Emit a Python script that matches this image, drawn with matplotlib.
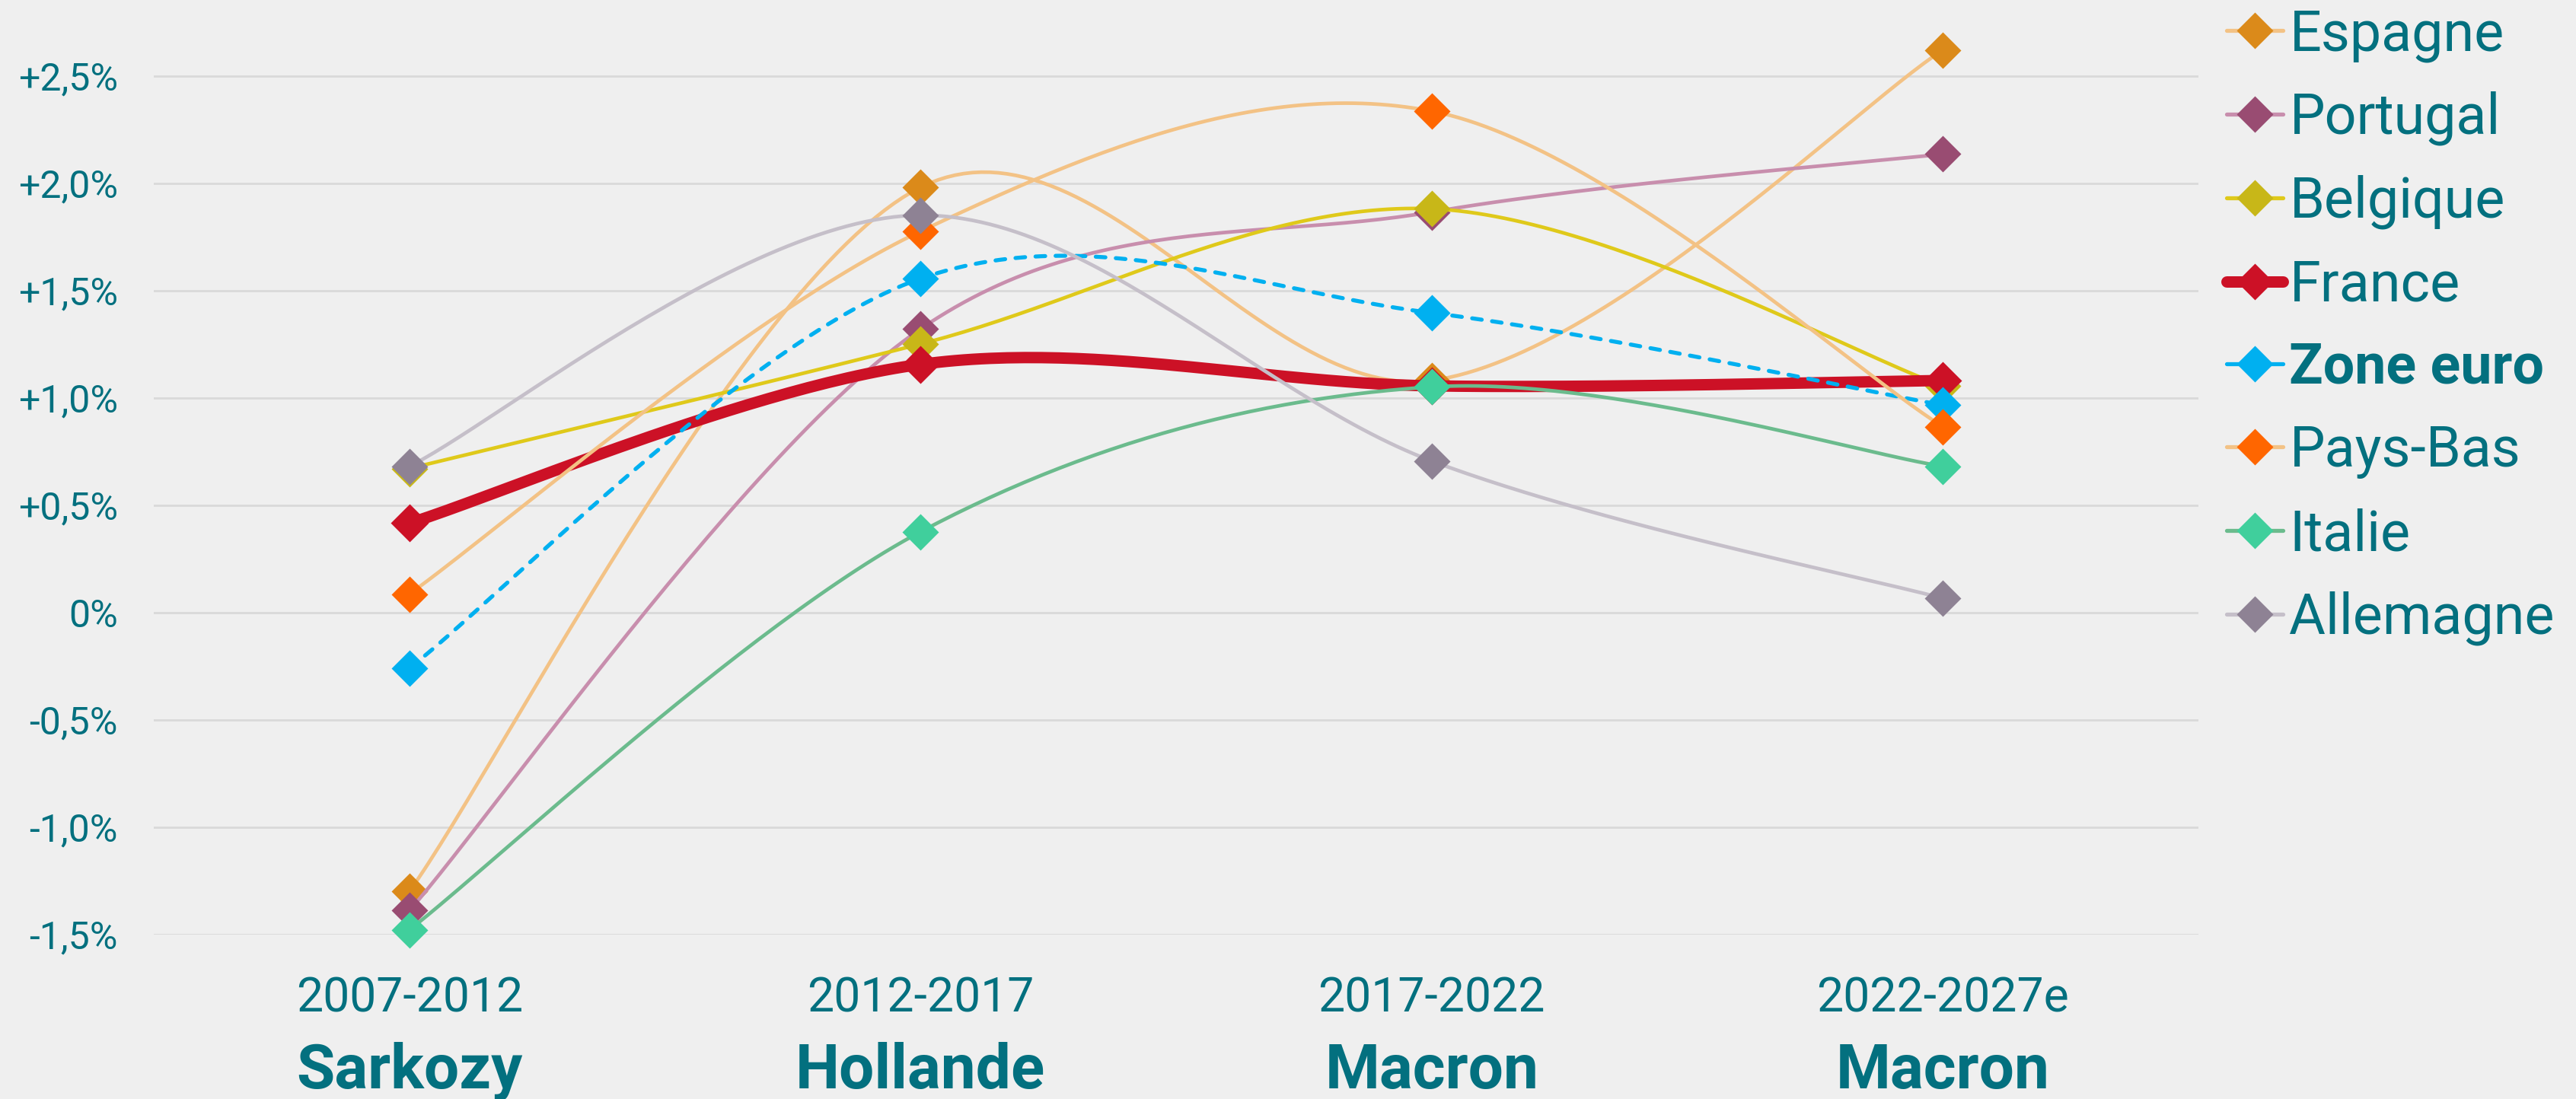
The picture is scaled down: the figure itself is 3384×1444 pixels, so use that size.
import numpy as np
import matplotlib
matplotlib.use("Agg")
import matplotlib.pyplot as plt
from matplotlib.lines import Line2D

plt.rcParams['font.family'] = ['Roboto', 'DejaVu Sans']

# periods / presidents on the x axis
periods = ['2007-2012', '2012-2017', '2017-2022', '2022-2027e']
presidents = ['Sarkozy', 'Hollande', 'Macron', 'Macron']

# average growth per term, %
espagne = [-1.30, 1.98, 1.08, 2.62]
portugal = [-1.39, 1.32, 1.865, 2.135]
belgique = [0.67, 1.25, 1.88, 1.055]
france = [0.415, 1.155, 1.055, 1.08]
zone_euro = [-0.26, 1.555, 1.395, 0.965]
pays_bas = [0.085, 1.775, 2.335, 0.865]
italie = [-1.48, 0.375, 1.05, 0.68]
allemagne = [0.68, 1.85, 0.705, 0.065]

names = ['Espagne', 'Portugal', 'Belgique', 'France', 'Zone euro', 'Pays-Bas', 'Italie', 'Allemagne']
series = [espagne, portugal, belgique, france, zone_euro, pays_bas, italie, allemagne]
line_cols = ['#F3C285', '#C88EAD', '#DFC91A', '#CC1126', '#00B0F0', '#F3C285', '#6BBB8D', '#C5BFC9']
mark_cols = ['#DB8A1A', '#994C72', '#C8B718', '#CC1126', '#00B0F0', '#FF6600', '#40CF9C', '#8E8294']

TEAL = '#03707F'
BG = '#EFEFEF'


def smooth(xs, ys, n=60):
    # excel-like smoothed line (catmull-rom as bezier)
    P = np.column_stack([xs, ys]).astype(float)
    P = np.vstack([P[0], P, P[-1]])
    t = np.linspace(0, 1, n)[:, None]
    out = []
    for i in range(1, len(P) - 2):
        p0, p1, p2, p3 = P[i - 1], P[i], P[i + 1], P[i + 2]
        c1 = p1 + (p2 - p0) / 6
        c2 = p2 - (p3 - p1) / 6
        seg = ((1 - t) ** 3) * p1 + 3 * ((1 - t) ** 2) * t * c1 + 3 * (1 - t) * t ** 2 * c2 + t ** 3 * p2
        out.append(seg if i == 1 else seg[1:])
    out = np.vstack(out)
    return out[:, 0], out[:, 1]


fig = plt.figure(figsize=(16.92, 7.22), dpi=200, facecolor=BG)
ax = fig.add_axes([202 / 3384, 1 - 1227.5 / 1444, (2888 - 202) / 3384, 1227.5 / 1444])
ax.set_facecolor(BG)

x = np.arange(len(periods))
for k, (nm, ys) in enumerate(zip(names, series)):
    sx, sy = smooth(x, ys)
    lw = 1.7
    kw = {}
    if nm == 'France':
        lw = 5.4
    if nm == 'Zone euro':
        lw = 1.9
        kw = dict(dashes=(2.4, 2.6), dash_capstyle='round')
    ax.plot(sx, sy, color=line_cols[k], lw=lw, zorder=3 + k * 2, solid_capstyle='round', **kw)
    ax.plot(x, ys, ls='none', marker='D', ms=12.5 if nm == 'France' else 12, mfc=mark_cols[k],
            mec='none', zorder=4 + k * 2, clip_on=False)

ax.set_xlim(-0.5, 3.5)
ax.set_ylim(-1.5, 804.5 / 282)
yt = [-1.5, -1.0, -0.5, 0, 0.5, 1.0, 1.5, 2.0, 2.5]
ax.set_yticks(yt)
ax.set_yticklabels(['0%' if v == 0 else ('%+.1f%%' % v).replace('.', ',') for v in yt])
ax.tick_params(axis='y', length=0, pad=17, labelsize=18, labelcolor=TEAL)
ax.set_xticks([])
ax.grid(axis='y', color='#D9D9D9', lw=1.0, zorder=1)
ax.set_axisbelow(True)
for s in ax.spines.values():
    s.set_visible(False)

for i in range(len(periods)):
    ax.annotate(periods[i], (x[i], 0), xycoords=('data', 'axes fraction'), xytext=(0, -30.5),
                textcoords='offset points', ha='center', va='center', fontsize=22.5, color=TEAL,
                annotation_clip=False)
    ax.annotate(presidents[i], (x[i], 0), xycoords=('data', 'axes fraction'), xytext=(0, -73),
                textcoords='offset points', ha='center', va='baseline', fontsize=29.5,
                fontweight='bold', color=TEAL, annotation_clip=False)

handles = []
for k, nm in enumerate(names):
    handles.append(Line2D([], [], color=line_cols[k], lw=5.4 if nm == 'France' else 1.9,
                          marker='D', ms=12, mfc=mark_cols[k], mec='none', solid_capstyle='round'))
leg = fig.legend(handles, names, loc='upper left', bbox_to_anchor=(2925 / 3384, 1 - 10 / 1444),
                 frameon=False, fontsize=26.5, handlelength=1.0, handletextpad=0.12,
                 labelspacing=0.52, borderaxespad=0, borderpad=0)
for t in leg.get_texts():
    t.set_color(TEAL)
leg.get_texts()[4].set_fontweight('bold')

fig.savefig('out.png', dpi=200, facecolor=BG)
